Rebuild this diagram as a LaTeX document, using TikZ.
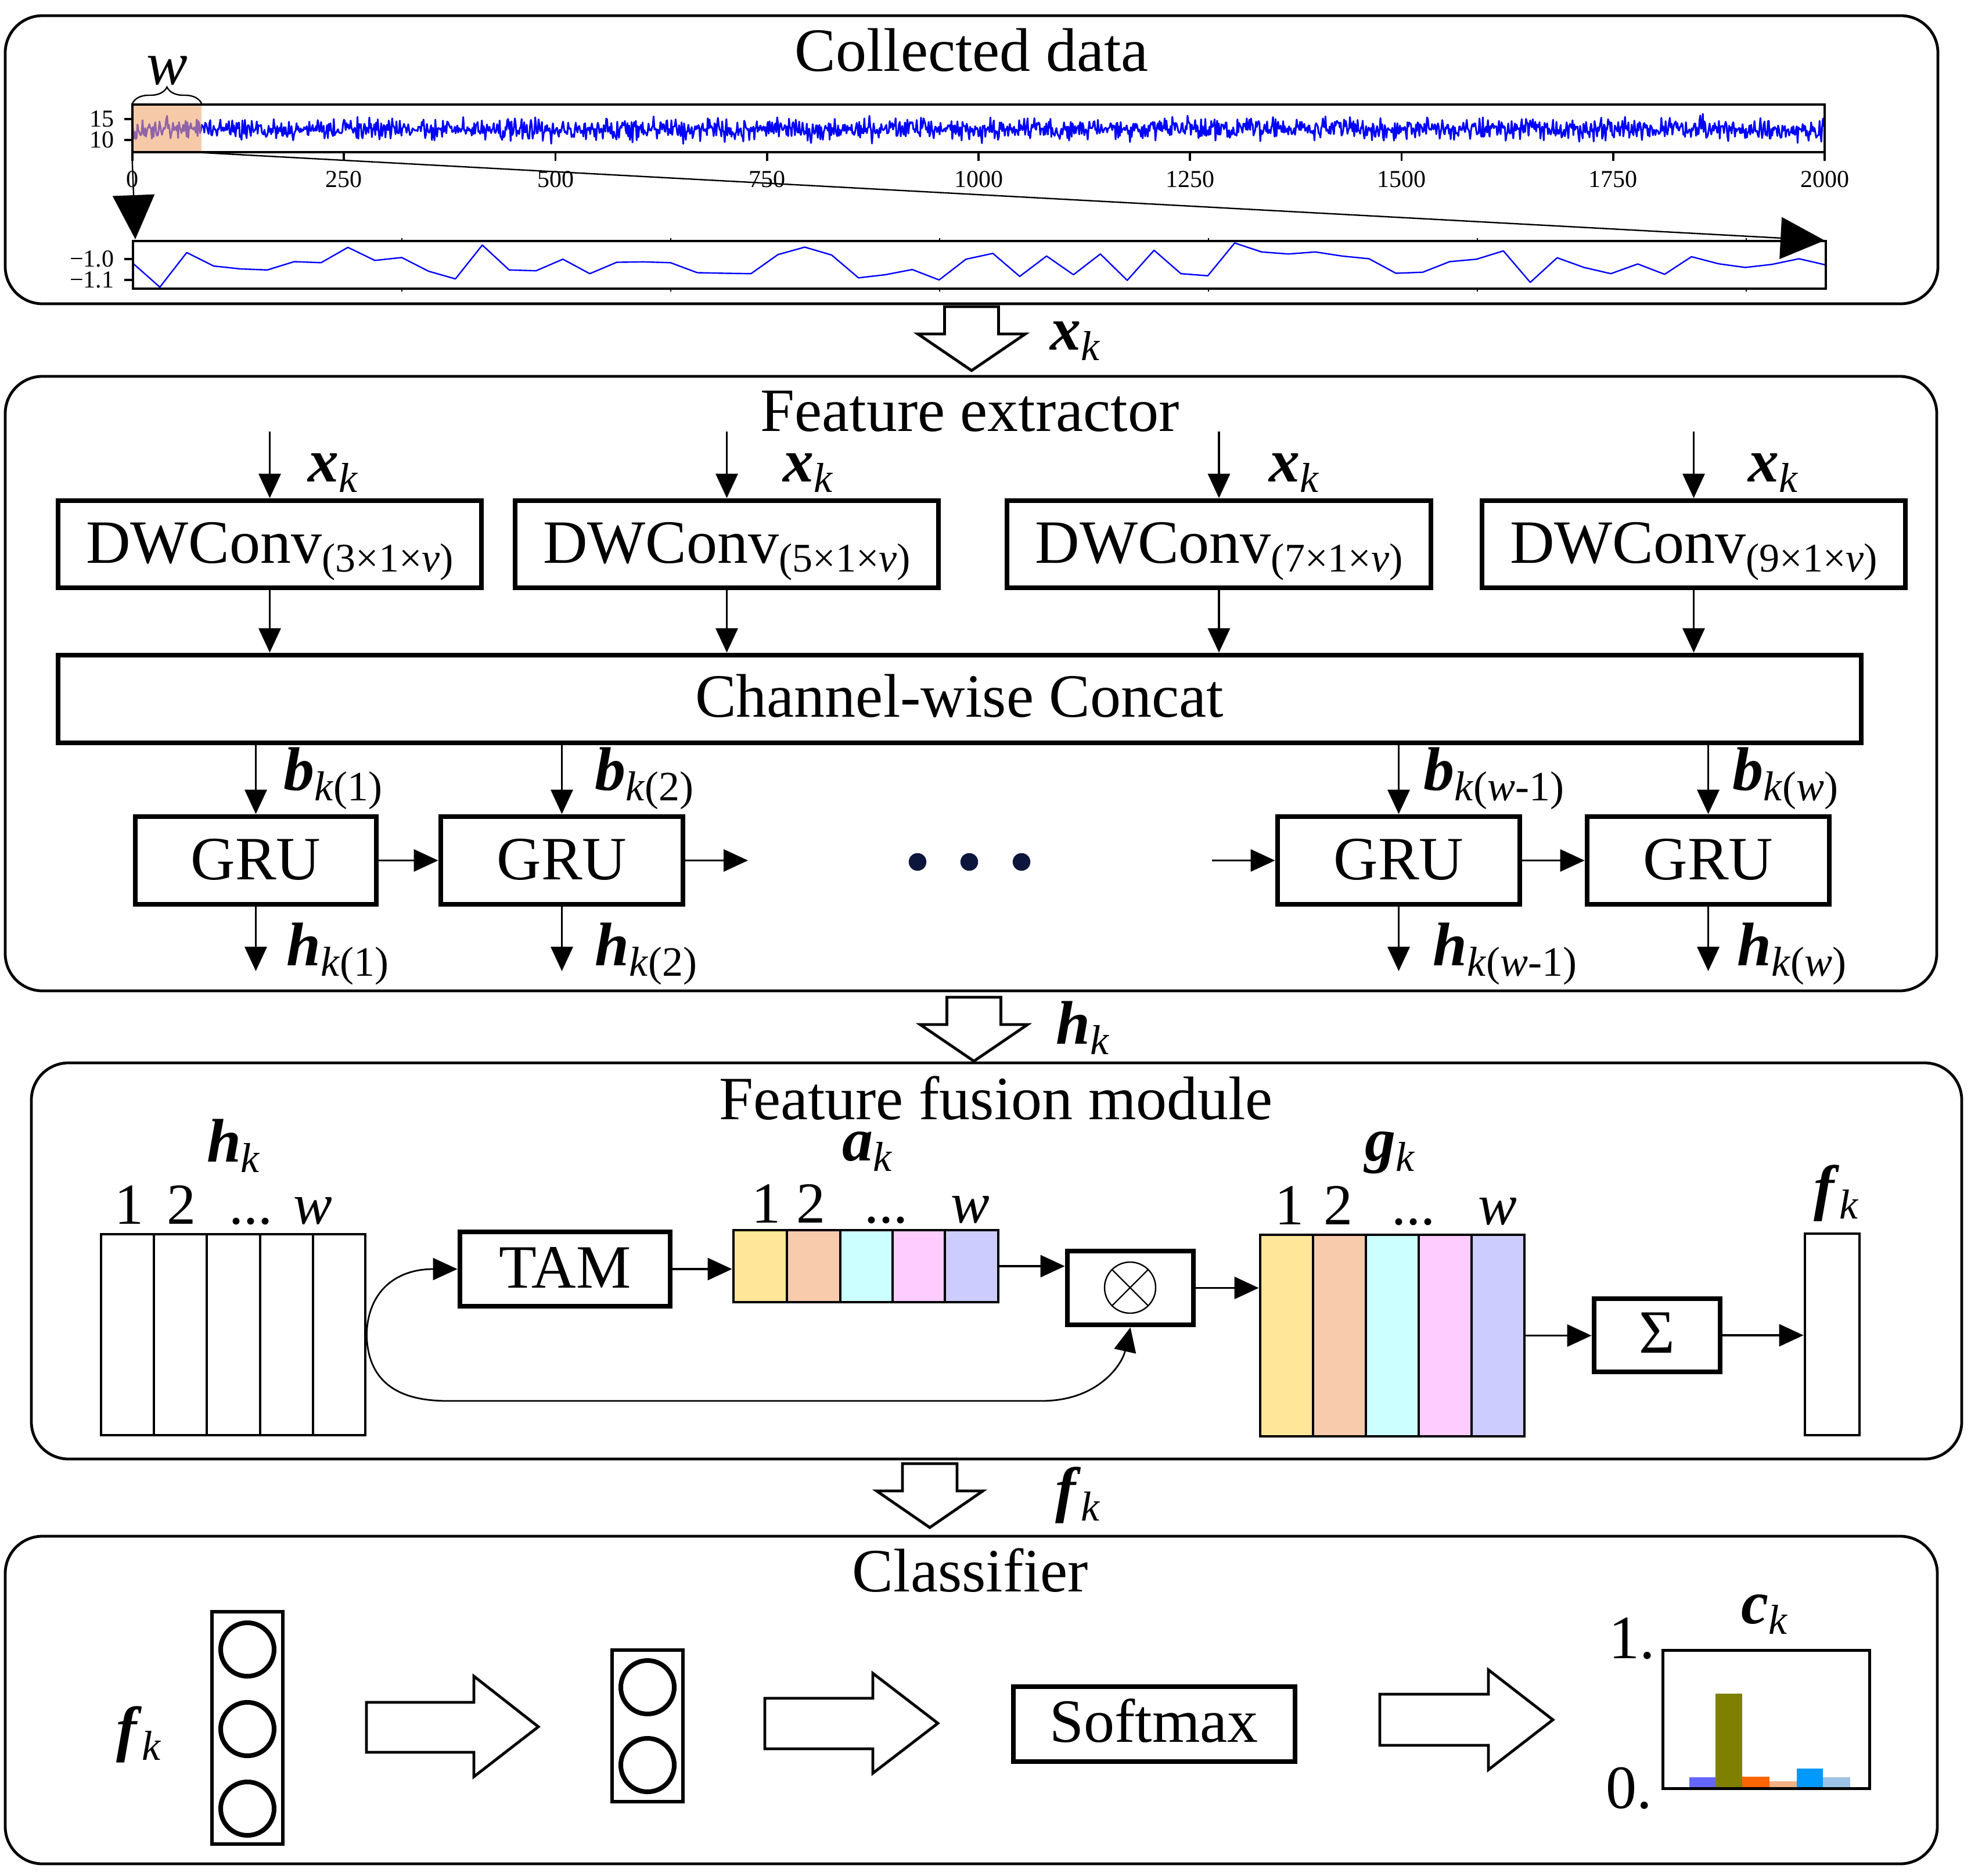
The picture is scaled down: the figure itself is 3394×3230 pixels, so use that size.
\documentclass[tikz,border=0pt]{standalone}
\usepackage{fontspec}
\setmainfont{Liberation Serif}
\usetikzlibrary{arrows.meta,fit,decorations.pathreplacing}
\newcommand\myvar[2]{\textbf{\textit{#1}}\raisebox{-4.5pt}{\fontsize{18}{20}\selectfont #2}}
\newcommand\mydw[1]{DWConv\raisebox{-4pt}{\fontsize{17.5}{18}\selectfont(#1×1×\textit{v})}}
\definecolor{cA}{RGB}{255,230,153}
\definecolor{cB}{RGB}{248,203,173}
\definecolor{cC}{RGB}{204,255,255}
\definecolor{cD}{RGB}{255,204,255}
\definecolor{cE}{RGB}{204,204,255}
\definecolor{winc}{RGB}{240,168,113}
\definecolor{navy}{RGB}{12,22,60}
\definecolor{bA}{RGB}{102,102,255}
\definecolor{bB}{RGB}{128,128,0}
\definecolor{bC}{RGB}{255,102,0}
\definecolor{bD}{RGB}{244,177,131}
\definecolor{bE}{RGB}{0,153,255}
\definecolor{bF}{RGB}{157,195,230}
\begin{document}
\begin{tikzpicture}[x=0.25pt,y=-0.25pt,
 panel/.style={draw, line width=1.2pt, rounded corners=16pt, inner sep=0pt},
 tbox/.style={draw, line width=2.2pt, inner sep=0pt},
 nbox/.style={draw, line width=1.2pt, inner sep=0pt},
 arr/.style={line width=0.9pt, -{Triangle[length=10.5pt,width=9.5pt]}},
 bigtip/.style={line width=0.6pt, -{Triangle[length=19pt,width=18pt]}},
 txt/.style={inner sep=0pt, anchor=base, font=\fontsize{26.5}{30}\selectfont},
 txtl/.style={txt, anchor=base west},
 num/.style={inner sep=0pt, anchor=base, font=\fontsize{25}{28}\selectfont},
 tk/.style={inner sep=0pt, font=\fontsize{10.5}{12}\selectfont},
 fat/.style={draw, line width=1.2pt, fill=white, line join=miter},
 sig/.style={draw=blue, line width=0.75pt, line join=round},
 neuron/.style={circle, draw, line width=2pt, minimum size=23pt, inner sep=0pt}
]
\useasboundingbox (0,0) rectangle (3394,3230);
\fill[white] (0,0) rectangle (3394,3230);

% ================= Panel 1 =================
\node[panel, fit={(9,27) (3337,523)}] (p1) {};
\node[txt] (t1) at (1673,123) {Collected data};
\pgfmathsetseed{11}
\draw[sig] plot[domain=0:2000, samples=2001, variable=\t] ({228+1.457*\t}, {222+9*(rand+rand+rand)+10*rand*rand*rand});
\node[fill=winc, fill opacity=0.6, inner sep=0pt, fit={(228,180) (347,262)}] (win) {};
\node[draw, line width=0.9pt, inner sep=0pt, fit={(228,180) (3142,262)}] (ax1) {};
\foreach \i/\l in {0/0,1/250,2/500,3/750,4/1000,5/1250,6/1500,7/1750,8/2000} {
  \draw[line width=0.9pt] ({228+364.25*\i},262) -- ({228+364.25*\i},277);
  \node[tk, anchor=base] (xl\i) at ({228+364.25*\i},323) {\l};
}
\draw[line width=0.9pt] (214,205) -- (228,205) (214,241) -- (228,241);
\node[tk, anchor=east] (y15) at (197,205) {15};
\node[tk, anchor=east] (y10) at (197,241) {10};
\draw[decorate, decoration={brace, amplitude=7pt}, line width=0.6pt] (228,178) -- (347,178);
\node[txt, font=\fontsize{26.5}{30}\selectfont\itshape] (wlab) at (288,146) {w};

\draw[sig, line width=0.6pt] (229,453.4) \foreach \y [count=\i] in {494.4,434.8,458.0,463.0,464.8,450.5,452.3,425.9,448.4,443.4,467.0,480.2,422.0,464.8,466.2,446.3,471.2,451.6,450.9,452.3,469.5,470.5,471.2,438.4,425.5,439.1,478.4,473.0,464.1,482.0,446.3,436.3,475.9,440.9,473.0,437.3,482.7,430.9,471.2,474.8,418.4,433.8,437.3,433.8,440.9,445.5,470.5,468.7,450.5,446.3,432.0,486.2,443.8,460.5,471.2,454.5,472.3,442.0,454.1,460.5,455.2,445.5,456.2} { -- ({229+46.27*\i},\y) };
\node[draw, line width=0.9pt, inner sep=0pt, fit={(229,415) (3144,497)}] (ax2) {};
\draw[line width=0.9pt] (214,446) -- (229,446) (214,482) -- (229,482);
\node[tk, anchor=east] (ym10) at (197,446) {−1.0};
\node[tk, anchor=east] (ym11) at (197,482) {−1.1};
\foreach \i in {1,...,6} \draw[line width=0.6pt] ({229+463*\i},410) -- ({229+463*\i},415) ({229+463*\i},497) -- ({229+463*\i},502);
\coordinate (zl) at (233,412);
\coordinate (zr) at (3142,414);
\draw[bigtip] (win.south west) -- (zl);
\draw[bigtip] (win.south east) -- (zr);

% fat arrow 1
\draw[fat] (1626.5,528) -- (1719.5,528) -- (1719.5,575) -- (1765.5,575) -- (1673,638) -- (1580.5,575) -- (1626.5,575) -- cycle;
\node[txtl] (xkA) at (1808,603) {\myvar{x}{\textit{k}}};

% ================= Panel 2 =================
\node[panel, fit={(9,648) (3335,1706)}] (p2) {};
\node[txt] (t2) at (1670,743) {Feature extractor};
\node[tbox, fit={(100,862) (829,1012)}] (dw1) {};
\node[tbox, fit={(887,862) (1616,1012)}] (dw2) {};
\node[tbox, fit={(1734,862) (2464,1012)}] (dw3) {};
\node[tbox, fit={(2552,862) (3281,1012)}] (dw4) {};
\node[txt] (dwt1) at (464.5,969) {\mydw{3}};
\node[txt] (dwt2) at (1251.5,969) {\mydw{5}};
\node[txt] (dwt3) at (2099,969) {\mydw{7}};
\node[txt] (dwt4) at (2916.5,969) {\mydw{9}};
\foreach \n/\x in {1/464.5,2/1251.5,3/2099,4/2916.5} {
  \coordinate (in\n) at (\x,743);
  \draw[arr] (in\n) -- (dw\n.north);
}
\node[txtl] (xk1) at (530,830) {\myvar{x}{\textit{k}}};
\node[txtl] (xk2) at (1348,830) {\myvar{x}{\textit{k}}};
\node[txtl] (xk3) at (2185,830) {\myvar{x}{\textit{k}}};
\node[txtl] (xk4) at (3010,830) {\myvar{x}{\textit{k}}};

\node[tbox, fit={(100,1128) (3205,1279)}] (cat) {};
\node[txt] (catt) at (1652,1234) {Channel-wise Concat};
\foreach \n in {1,2,3,4} \draw[arr] (dw\n.south) -- (dw\n.south |- cat.north);

\node[tbox, fit={(233,1406) (648,1557)}] (g1) {};
\node[tbox, fit={(759,1406) (1176,1557)}] (g2) {};
\node[tbox, fit={(2200,1406) (2617,1557)}] (g3) {};
\node[tbox, fit={(2733,1406) (3150,1557)}] (g4) {};
\foreach \n/\x in {1/440.5,2/967.5,3/2408.5,4/2941.5} {
  \node[txt] (gt\n) at (\x,1514) {GRU};
  \draw[arr] (g\n.north |- cat.south) -- (g\n.north);
  \coordinate (o\n) at (\x,1672);
  \draw[arr] (g\n.south) -- (o\n);
}
\node[txtl] (bl1) at (488,1360) {\myvar{b}{\textit{k}(1)}};
\node[txtl] (bl2) at (1024,1360) {\myvar{b}{\textit{k}(2)}};
\node[txtl] (bl3) at (2451,1360) {\myvar{b}{\textit{k}(\textit{w}-1)}};
\node[txtl] (bl4) at (2983,1360) {\myvar{b}{\textit{k}(\textit{w})}};
\node[txtl] (hl1) at (493,1662) {\myvar{h}{\textit{k}(1)}};
\node[txtl] (hl2) at (1024,1662) {\myvar{h}{\textit{k}(2)}};
\node[txtl] (hl3) at (2467,1662) {\myvar{h}{\textit{k}(\textit{w}-1)}};
\node[txtl] (hl4) at (2991,1662) {\myvar{h}{\textit{k}(\textit{w})}};
\draw[arr] (g1.east) -- (g2.west);
\coordinate (gn) at (1288,1481.5);
\draw[arr] (g2.east) -- (gn);
\coordinate (gp) at (2087,1481.5);
\draw[arr] (gp) -- (g3.west);
\draw[arr] (g3.east) -- (g4.west);
\foreach \x in {1580,1669,1759} \fill[navy] (\x,1484) circle[radius=3.8pt];

% fat arrow 2
\draw[fat] (1630.5,1717) -- (1723.5,1717) -- (1723.5,1764) -- (1769.5,1764) -- (1677,1827) -- (1584.5,1764) -- (1630.5,1764) -- cycle;
\node[txtl] (hkA) at (1818,1797) {\myvar{h}{\textit{k}}};

% ================= Panel 3 =================
\node[panel, fit={(54,1830) (3378,2512)}] (p3) {};
\node[txt] (t3) at (1715,1927) {Feature fusion module};

\node[nbox, fit={(174,2125) (629,2471)}] (hb) {};
\foreach \x in {265,356,448,539} \draw[line width=1pt] (\x,2125) -- (\x,2471);
\node[txt] (hkl) at (402,2000) {\myvar{h}{\textit{k}}};
\node[num] (hn1) at (222,2107) {1};
\node[num] (hn2) at (312,2107) {2};
\node[num] (hn3) at (432,2107) {...};
\node[num] (hn4) at (539,2107) {\textit{w}};

\node[tbox, fit={(792,2121) (1154,2249)}] (tam) {};
\node[txt] (tamt) at (973,2217) {TAM};

\foreach \x/\c in {1263/cA,1355/cB,1447/cC,1537/cD,1627/cE} \fill[\c] (\x,2118) rectangle ++(92,124);
\node[nbox, fit={(1263,2118) (1719,2242)}] (ab) {};
\foreach \x in {1355,1447,1537,1627} \draw[line width=1pt] (\x,2118) -- (\x,2242);
\node[txt] (akl) at (1493,1998) {\myvar{a}{\textit{k}}};
\node[num] (an1) at (1319,2105) {1};
\node[num] (an2) at (1396,2105) {2};
\node[num] (an3) at (1526,2105) {...};
\node[num] (an4) at (1671,2105) {\textit{w}};

\node[tbox, fit={(1838,2154) (2055,2281)}] (ot) {};
\draw[line width=0.6pt] (1946,2217) circle[radius=11pt];
\draw[line width=0.6pt] (1915,2186) -- (1977,2248) (1977,2186) -- (1915,2248);

\foreach \x/\c in {2170/cA,2261/cB,2352/cC,2443/cD,2534/cE} \fill[\c] (\x,2126) rectangle ++(91,347);
\node[nbox, fit={(2170,2126) (2625,2473)}] (gb) {};
\foreach \x in {2261,2352,2443,2534} \draw[line width=1pt] (\x,2126) -- (\x,2473);
\node[txt] (gkl) at (2393,1998) {\myvar{g}{\textit{k}}};
\node[num] (gn1) at (2220,2108) {1};
\node[num] (gn2) at (2304,2108) {2};
\node[num] (gn3) at (2434,2108) {...};
\node[num] (gn4) at (2579,2108) {\textit{w}};

\node[tbox, fit={(2745,2236) (2962,2362)}] (sg) {};
\node[txt] (sgt) at (2853,2329) {Σ};
\node[nbox, fit={(3108,2124) (3202,2471)}] (fb) {};
\node[txt] (fkl) at (3162,2080) {\myvar{f}{\textit{k}}};

\draw[arr] (tam.east) -- (tam.east -| ab.west);
\draw[arr] (ab.east) -- (ab.east -| ot.west);
\draw[arr] (ot.east) -- (ot.east -| gb.west);
\draw[arr] (gb.east) -- (gb.east -| sg.west);
\draw[arr] (sg.east) -- (sg.east -| fb.west);
\draw[arr, line width=0.7pt] (hb.east) .. controls (633,2225) and (680,2185) .. (tam.west);
\draw[arr, line width=0.7pt] (hb.east) .. controls (633,2375) and (680,2412) .. (770,2412) -- (1794,2412) .. controls (1890,2412) and (1932,2350) .. (ot.south);

% fat arrow 3
\draw[fat] (1554,2520) -- (1648,2520) -- (1648,2567) -- (1692.5,2567) -- (1601,2630) -- (1509.5,2567) -- (1554,2567) -- cycle;
\node[txtl] (fkA) at (1817,2600) {\myvar{f}{\textit{k}}};

% ================= Panel 4 =================
\node[panel, fit={(9,2645) (3336,3209)}] (p4) {};
\node[txt] (t4) at (1671,2740) {Classifier};
\node[txtl] (fkB) at (200,3012) {\myvar{f}{\textit{k}}};
\node[draw, line width=1.5pt, inner sep=0pt, fit={(365,2775) (487,3175)}] (r1) {};
\node[neuron] (n1) at (426,2840) {};
\node[neuron] (n2) at (426,2977) {};
\node[neuron] (n3) at (426,3114) {};
\node[draw, line width=1.5pt, inner sep=0pt, fit={(1054,2841) (1176,3102)}] (r2) {};
\node[neuron] (m1) at (1115,2905) {};
\node[neuron] (m2) at (1115,3039) {};
\draw[fat] (631,2931) -- (816,2931) -- (816,2886) -- (927,2973) -- (816,3059) -- (816,3017) -- (631,3017) -- cycle;
\draw[fat] (1317,2924) -- (1503,2924) -- (1503,2881) -- (1615,2967) -- (1503,3053) -- (1503,3011) -- (1317,3011) -- cycle;
\draw[fat] (2376,2917) -- (2563,2917) -- (2563,2875) -- (2674,2961) -- (2563,3047) -- (2563,3005) -- (2376,3005) -- cycle;
\node[tbox, fit={(1745,2904) (2230,3033)}] (sm) {};
\node[txt] (smt) at (1987,2999) {Softmax};

\fill[bA] (2909,3060) rectangle (2954,3077);
\fill[bB] (2954,2916) rectangle (3000,3077);
\fill[bC] (3000,3059) rectangle (3047,3077);
\fill[bD] (3047,3067) rectangle (3094,3077);
\fill[bE] (3094,3045) rectangle (3139,3077);
\fill[bF] (3139,3060) rectangle (3186,3077);
\node[draw, line width=1.25pt, inner sep=0pt, fit={(2863,2841) (3219,3079)}] (bc) {};
\node[txt, anchor=base east] (one) at (2851,2855) {1.};
\node[txt, anchor=base east] (zero) at (2846,3113) {0.};
\node[txtl] (ck) at (2998,2795) {\myvar{c}{\textit{k}}};
\end{tikzpicture}
\end{document}
